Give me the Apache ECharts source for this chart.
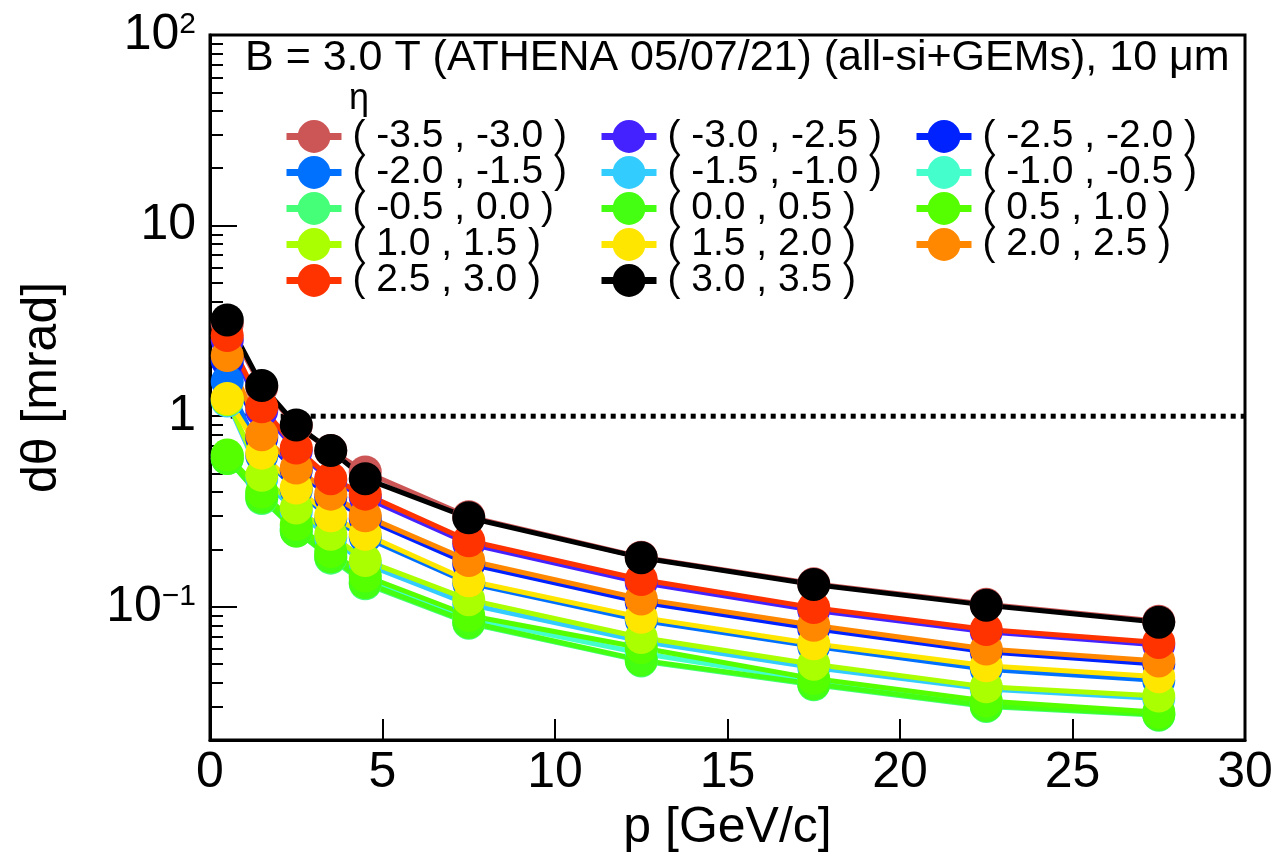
<!DOCTYPE html>
<html>
<head>
<meta charset="utf-8">
<script src="https://cdn.jsdelivr.net/npm/echarts@6/dist/echarts.min.js"></script>
<style>
html, body { margin: 0; padding: 0; background: #fff; }
#main { width: 1277px; height: 858px; }
</style>
</head>
<body>
<div id="main"></div>
<script>
// momentum bin centres [GeV/c]
var momentum = [0.5, 1.5, 2.5, 3.5, 4.5, 7.5, 12.5, 17.5, 22.5, 27.5];

// d-theta [mrad] per eta bin
var eta_m35_m30 = [3.05, 1.42, 0.89, 0.66, 0.51, 0.297, 0.182, 0.132, 0.103, 0.084];
var eta_m30_m25 = [2.50, 1.07, 0.66, 0.46, 0.375, 0.214, 0.134, 0.096, 0.074, 0.063];
var eta_m25_m20 = [1.95, 0.77, 0.52, 0.375, 0.29, 0.168, 0.106, 0.077, 0.058, 0.050];
var eta_m20_m15 = [1.52, 0.62, 0.41, 0.29, 0.232, 0.133, 0.085, 0.062, 0.047, 0.041];
var eta_m15_m10 = [1.20, 0.47, 0.315, 0.23, 0.168, 0.103, 0.066, 0.048, 0.037, 0.033];
var eta_m10_m05 = [0.62, 0.39, 0.26, 0.19, 0.140, 0.087, 0.057, 0.041, 0.031, 0.0275];
var eta_m05_p00 = [0.60, 0.37, 0.25, 0.18, 0.132, 0.082, 0.052, 0.039, 0.030, 0.027];
var eta_p00_p05 = [0.60, 0.375, 0.25, 0.183, 0.134, 0.083, 0.0525, 0.0394, 0.0303, 0.0272];
var eta_p05_p10 = [0.625, 0.40, 0.27, 0.195, 0.145, 0.090, 0.061, 0.042, 0.032, 0.028];
var eta_p10_p15 = [1.22, 0.49, 0.33, 0.24, 0.175, 0.109, 0.069, 0.050, 0.038, 0.034];
var eta_p15_p20 = [1.24, 0.64, 0.42, 0.30, 0.24, 0.137, 0.088, 0.064, 0.049, 0.043];
var eta_p20_p25 = [2.08, 0.80, 0.535, 0.39, 0.30, 0.175, 0.110, 0.080, 0.060, 0.052];
var eta_p25_p30 = [2.65, 1.12, 0.68, 0.47, 0.39, 0.222, 0.139, 0.099, 0.076, 0.065];
var eta_p30_p35 = [3.20, 1.45, 0.90, 0.66, 0.47, 0.293, 0.181, 0.131, 0.102, 0.083];

var etaNames = [
  '( -3.5 , -3.0 )', '( -3.0 , -2.5 )', '( -2.5 , -2.0 )',
  '( -2.0 , -1.5 )', '( -1.5 , -1.0 )', '( -1.0 , -0.5 )',
  '( -0.5 , 0.0 )', '( 0.0 , 0.5 )', '( 0.5 , 1.0 )',
  '( 1.0 , 1.5 )', '( 1.5 , 2.0 )', '( 2.0 , 2.5 )',
  '( 2.5 , 3.0 )', '( 3.0 , 3.5 )'
];
var etaValues = [
  eta_m35_m30, eta_m30_m25, eta_m25_m20, eta_m20_m15, eta_m15_m10,
  eta_m10_m05, eta_m05_p00, eta_p00_p05, eta_p05_p10, eta_p10_p15,
  eta_p15_p20, eta_p20_p25, eta_p25_p30, eta_p30_p35
];
var etaColors = [
  '#cc5555', '#4422ff', '#0022ff', '#0070ff', '#33ccff',
  '#44ffcc', '#44ff77', '#44ff11', '#55ff00', '#aaff00',
  '#ffe600', '#ff8800', '#ff3300', '#000000'
];

// reference line at 1 mrad
var refX = [0.6, 30];
var refY = [1, 1];

// log axis ticks
var yMajor = [0.1, 1, 10, 100];
var yMinor = [0.02, 0.03, 0.04, 0.05, 0.06, 0.07, 0.08, 0.09,
              0.2, 0.3, 0.4, 0.5, 0.6, 0.7, 0.8, 0.9,
              2, 3, 4, 5, 6, 7, 8, 9,
              20, 30, 40, 50, 60, 70, 80, 90];

var font = 'Liberation Sans, Arial, Helvetica, sans-serif';

var chart = echarts.init(document.getElementById('main'));

var series = [{
  name: 'ref',
  type: 'line',
  data: refX.map(function (x, i) { return [x, refY[i]]; }),
  symbol: 'none',
  silent: true,
  lineStyle: { color: '#000', width: 5, type: [5, 5] },
  z: 1
}];
etaNames.forEach(function (name, k) {
  series.push({
    name: name,
    type: 'line',
    data: momentum.map(function (p, i) { return [p, etaValues[k][i]]; }),
    symbol: 'circle',
    symbolSize: 33,
    color: etaColors[k],
    lineStyle: { width: 5, color: etaColors[k] },
    itemStyle: { color: etaColors[k] },
    clip: false,
    z: 2
  });
});

function legendCol(left, idx) {
  return {
    orient: 'vertical',
    left: left,
    top: 117,
    padding: 0,
    itemWidth: 55,
    itemHeight: 41,
    itemGap: -3,
    lineStyle: { width: 7 },
    textStyle: { fontFamily: font, fontSize: 39, color: '#000', padding: [0, 0, 0, 6] },
    data: idx.map(function (i) { return etaNames[i]; })
  };
}

var option = {
  backgroundColor: '#fff',
  animation: false,
  title: [{
    text: 'B = 3.0 T (ATHENA 05/07/21) (all-si+GEMs), 10 \u03bcm',
    left: 240,
    top: 32,
    textStyle: { fontFamily: font, fontSize: 43, fontWeight: 'normal', color: '#000' }
  }, {
    text: '\u03b7',
    left: 344,
    top: 76,
    textStyle: { fontFamily: font, fontSize: 36, fontWeight: 'normal', color: '#000' }
  }],
  legend: [
    legendCol(283, [0, 3, 6, 9, 12]),
    legendCol(598, [1, 4, 7, 10, 13]),
    legendCol(913, [2, 5, 8, 11])
  ],
  grid: {
    left: 210, right: 32, top: 35, bottom: 118,
    show: true, borderColor: '#000', borderWidth: 3, backgroundColor: 'transparent'
  },
  xAxis: {
    type: 'value',
    min: 0, max: 30, interval: 5,
    name: 'p [GeV/c]',
    nameLocation: 'middle',
    nameGap: 62,
    nameTextStyle: { fontFamily: font, fontSize: 50, color: '#000' },
    axisLine: { lineStyle: { color: '#000', width: 3 } },
    axisTick: { inside: true, length: 21, lineStyle: { color: '#000', width: 2 } },
    axisLabel: { fontFamily: font, fontSize: 50, color: '#000', margin: 8 },
    splitLine: { show: false }
  },
  yAxis: [{
    type: 'log',
    logBase: 10,
    min: 0.02, max: 100,
    name: 'd\u03b8 [mrad]',
    nameLocation: 'middle',
    nameGap: 143,
    nameTextStyle: { fontFamily: font, fontSize: 50, color: '#000' },
    axisLine: { lineStyle: { color: '#000', width: 3 } },
    axisTick: { inside: true, length: 13, customValues: yMinor, lineStyle: { color: '#000', width: 2 } },
    axisLabel: {
      customValues: yMajor,
      margin: 14,
      color: '#000',
      fontFamily: font,
      formatter: function (v) {
        var e = Math.round(Math.log10(v));
        if (e === 0) return '{b|1}';
        if (e === 1) return '{b|10}';
        return '{b|10}{s|' + (e < 0 ? '\u2212' + (-e) : e) + '}';
      },
      rich: {
        b: { fontFamily: font, fontSize: 50, color: '#000' },
        s: { fontFamily: font, fontSize: 30, color: '#000', verticalAlign: 'top' }
      }
    },
    splitLine: { show: false }
  }, {
    type: 'log',
    logBase: 10,
    min: 0.02, max: 100,
    position: 'left',
    offset: 0,
    axisLine: { show: false },
    axisTick: { inside: true, length: 27, customValues: yMajor, lineStyle: { color: '#000', width: 2 } },
    axisLabel: { show: false },
    splitLine: { show: false }
  }],
  series: series
};

chart.setOption(option);
</script>
</body>
</html>
